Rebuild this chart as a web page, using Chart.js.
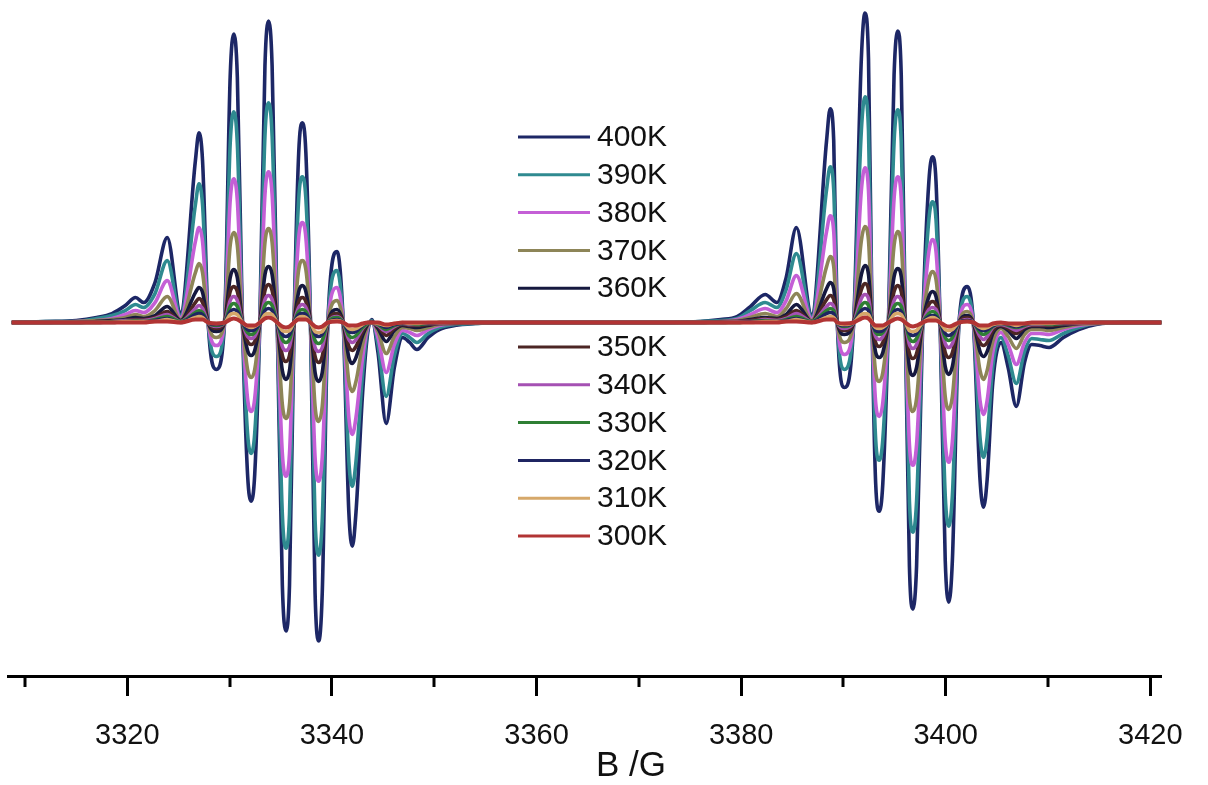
<!DOCTYPE html>
<html lang="en">
<head>
<meta charset="utf-8">
<title>EPR spectra, 300K - 400K</title>
<script src="https://cdn.jsdelivr.net/npm/chart.js@4/dist/chart.umd.min.js"></script>
<style>
  html, body { margin: 0; padding: 0; background: #fff; }
  #eprChart { display: block; }
</style>
</head>
<body>
<canvas id="eprChart" width="1208" height="785"></canvas>
<script>
// Field positions (G) shared by all spectra
const fieldG = [
  // low-field wing
  3308.7, 3312, 3315, 3317, 3318.5, 3319.8, 3320.8, 3321.6, 3322.7, 3323.9, 3325.2,
  // first multiplet
  3326.65, 3327.0, 3327.35, 3327.9, 3328.7, 3329.5, 3330.05, 3330.4, 3330.75, 3331.25,
  3331.75, 3332.1, 3332.45, 3332.95, 3333.45, 3333.8, 3334.15, 3334.65, 3335.15, 3335.5,
  3335.85, 3336.3, 3336.75, 3337.1, 3337.45, 3337.9, 3338.35, 3338.7, 3339.05, 3339.6,
  3340.5, 3341.1, 3341.65, 3342.0, 3342.35,
  // tail, gap, rise of the second multiplet
  3343.0, 3343.5, 3343.9, 3344.5, 3345.3, 3346.1, 3346.9, 3347.6, 3348.3, 3349.4,
  3350.5, 3352.0, 3354.0, 3357.0, 3365, 3373, 3376, 3378, 3379.6, 3380.9,
  3382.35, 3383.5, 3384.4, 3385.4, 3386.9,
  // second multiplet
  3388.35, 3388.7, 3389.05, 3389.4, 3390.1, 3391.0, 3391.75, 3392.1, 3392.45, 3392.8,
  3393.15, 3393.5, 3393.85, 3394.4, 3394.95, 3395.3, 3395.65, 3396.05, 3396.45, 3396.8,
  3397.15, 3397.75, 3398.35, 3398.7, 3399.05, 3399.45, 3399.95, 3400.3, 3400.65, 3401.3,
  3402.1, 3402.7, 3403.35, 3403.7, 3404.05,
  // high-field wing
  3404.6, 3405.4, 3406.1, 3406.9, 3407.7, 3408.4, 3409.2, 3410.1, 3411.5, 3413.0,
  3414.7, 3417.5, 3421.1
];

// First-derivative signal (a.u.) at each temperature, same grouping as fieldG
const k400 = [
  0,1,2,5,9,17,25,20,40,85,10,
  162,190,162,0,-47,0,246,289,246,0,-152,-179,-152,0,257,302,257,0,-263,-309,-263,0,170,200,170,0,-271,-319,-271,0,71,0,-190,-224,-190,
  -70,-10,3,-30,-101,-45,-15,-20,-27,-15,-7,-3,-1,0,0,0,1,3,6,16,28,20,45,95,8,
  182,214,182,0,-65,0,264,310,264,0,-161,-189,-161,0,248,292,248,0,-244,-287,-244,0,141,166,141,0,-238,-280,-238,0,36,0,-157,-185,-157,
  -60,-20,-45,-84,-40,-22,-23,-25,-15,-7,-2,0,0];
const k390 = [
  0,1,1,4,7,12,18,15,29,62,7,
  118,139,118,0,-34,0,179,211,179,0,-111,-131,-111,0,187,220,187,0,-192,-226,-192,0,124,146,124,0,-198,-233,-198,0,52,0,-139,-164,-139,
  -51,-7,2,-22,-74,-33,-11,-15,-20,-11,-5,-2,-1,0,0,0,1,2,4,12,20,15,33,69,6,
  133,156,133,0,-47,0,192,226,192,0,-117,-138,-117,0,181,213,181,0,-179,-210,-179,0,103,121,103,0,-173,-204,-173,0,26,0,-115,-135,-115,
  -44,-15,-33,-61,-29,-16,-17,-18,-11,-5,-1,0,0];
const k380 = [
  0,0,1,2,4,8,12,10,20,42,5,
  81,95,81,0,-23,0,122,144,122,0,-76,-89,-76,0,128,151,128,0,-131,-154,-131,0,85,100,85,0,-135,-159,-135,0,35,0,-95,-112,-95,
  -35,-5,1,-15,-50,-22,-8,-10,-13,-7,-3,-1,0,0,0,0,0,1,3,8,14,10,22,47,4,
  91,107,91,0,-32,0,132,155,132,0,-80,-94,-80,0,124,146,124,0,-122,-143,-122,0,71,83,71,0,-119,-140,-119,0,18,0,-78,-92,-78,
  -30,-10,-22,-42,-20,-11,-11,-12,-7,-3,-1,0,0];
const k370 = [
  0,0,1,2,3,5,8,6,12,26,3,
  50,59,50,0,-15,0,77,90,77,0,-47,-55,-47,0,80,94,80,0,-82,-96,-82,0,53,62,53,0,-84,-99,-84,0,22,0,-59,-69,-59,
  -22,-3,1,-9,-31,-14,-5,-6,-8,-5,-2,-1,0,0,0,0,0,1,2,5,9,6,14,29,2,
  56,66,56,0,-20,0,82,96,82,0,-50,-59,-50,0,77,91,77,0,-76,-89,-76,0,43,51,43,0,-74,-87,-74,0,11,0,-48,-57,-48,
  -19,-6,-14,-26,-12,-7,-7,-8,-5,-2,-1,0,0];
const k360 = [
  0,0,0,1,2,3,5,4,7,16,2,
  30,35,30,0,-9,0,45,53,45,0,-28,-33,-28,0,48,56,48,0,-48,-57,-48,0,31,37,31,0,-50,-59,-50,0,13,0,-35,-41,-35,
  -13,-2,1,-6,-19,-8,-3,-4,-5,-3,-1,-1,0,0,0,0,0,1,1,3,5,4,8,18,1,
  34,40,34,0,-12,0,48,57,48,0,-30,-35,-30,0,46,54,46,0,-45,-53,-45,0,26,31,26,0,-44,-52,-44,0,7,0,-29,-34,-29,
  -11,-4,-8,-16,-7,-4,-4,-5,-3,-1,0,0,0];
const k350 = [
  0,0,0,1,1,2,3,3,5,11,1,
  20,24,20,0,-6,0,31,36,31,0,-19,-22,-19,0,32,38,32,0,-33,-39,-33,0,21,25,21,0,-34,-40,-34,0,9,0,-24,-28,-24,
  -9,-1,0,-4,-13,-6,-2,-3,-3,-2,-1,0,0,0,0,0,0,0,1,2,4,3,6,12,1,
  23,27,23,0,-8,0,33,39,33,0,-20,-24,-20,0,31,37,31,0,-31,-36,-31,0,18,21,18,0,-30,-35,-30,0,5,0,-20,-23,-20,
  -8,-3,-6,-11,-5,-3,-3,-3,-2,-1,0,0,0];
const k340 = [
  0,0,0,0,1,2,2,2,4,8,1,
  14,17,14,0,-4,0,22,26,22,0,-14,-16,-14,0,23,27,23,0,-24,-28,-24,0,15,18,15,0,-25,-29,-25,0,6,0,-17,-20,-17,
  -6,-1,0,-3,-9,-4,-1,-2,-2,-1,-1,0,0,0,0,0,0,0,1,1,3,2,4,9,1,
  16,19,16,0,-6,0,24,28,24,0,-14,-17,-14,0,22,26,22,0,-22,-26,-22,0,13,15,13,0,-21,-25,-21,0,3,0,-14,-17,-14,
  -5,-2,-4,-8,-4,-2,-2,-2,-1,-1,0,0,0];
const k330 = [
  0,0,0,0,1,1,2,1,3,6,1,
  10,12,10,0,-3,0,16,19,16,0,-10,-12,-10,0,17,20,17,0,-17,-20,-17,0,11,13,11,0,-18,-21,-18,0,5,0,-13,-15,-13,
  -5,-1,0,-2,-7,-3,-1,-1,-2,-1,0,0,0,0,0,0,0,0,0,1,2,1,3,6,1,
  12,14,12,0,-4,0,17,20,17,0,-10,-12,-10,0,16,19,16,0,-16,-19,-16,0,9,11,9,0,-15,-18,-15,0,2,0,-10,-12,-10,
  -4,-1,-3,-5,-3,-1,-1,-2,-1,0,0,0,0];
const k320 = [
  0,0,0,0,0,1,1,1,2,4,0,
  8,9,8,0,-2,0,11,13,11,0,-7,-8,-7,0,12,14,12,0,-12,-14,-12,0,8,9,8,0,-12,-14,-12,0,3,0,-9,-10,-9,
  -3,0,0,-1,-5,-2,-1,-1,-1,-1,0,0,0,0,0,0,0,0,0,1,1,1,2,4,0,
  9,10,9,0,-3,0,12,14,12,0,-8,-9,-8,0,11,13,11,0,-11,-13,-11,0,6,7,6,0,-11,-13,-11,0,2,0,-7,-8,-7,
  -3,-1,-2,-4,-2,-1,-1,-1,-1,0,0,0,0];
const k310 = [
  0,0,0,0,0,1,1,1,1,3,0,
  5,6,5,0,-1,0,8,9,8,0,-4,-5,-4,0,8,9,8,0,-8,-9,-8,0,5,6,5,0,-9,-10,-9,0,2,0,-6,-7,-6,
  -2,0,0,-1,-3,-1,0,-1,-1,0,0,0,0,0,0,0,0,0,0,0,1,1,1,3,0,
  5,6,5,0,-2,0,8,9,8,0,-5,-6,-5,0,8,9,8,0,-8,-9,-8,0,4,5,4,0,-7,-8,-7,0,1,0,-5,-6,-5,
  -2,-1,-1,-3,-1,-1,-1,-1,0,0,0,0,0];
const k300 = [
  0,0,0,0,0,0,0,0,1,1,0,
  3,3,3,0,-1,0,3,4,3,0,-3,-3,-3,0,4,5,4,0,-4,-5,-4,0,3,3,3,0,-4,-5,-4,0,1,0,-3,-3,-3,
  -1,0,0,0,-2,-1,0,0,0,0,0,0,0,0,0,0,0,0,0,0,0,0,1,1,0,
  3,3,3,0,-1,0,4,5,4,0,-3,-3,-3,0,3,4,3,0,-3,-4,-3,0,2,2,2,0,-3,-4,-3,0,1,0,-3,-3,-3,
  -1,0,-1,-1,-1,0,0,0,0,0,0,0,0];

const tempLabels = ['400K', '390K', '380K', '370K', '360K', '350K', '340K', '330K', '320K', '310K', '300K'];
const spectra = [k400, k390, k380, k370, k360, k350, k340, k330, k320, k310, k300];
const lineColors = ['#1d2766', '#2f8a90', '#c45fd6', '#8d8558', '#15183f', '#4c2624',
  '#a551b3', '#2f7f34', '#1f2562', '#d6a86a', '#b13434'];

// Axis ticks every 10 G, labels every 20 G
const fieldTicks = [3310, 3320, 3330, 3340, 3350, 3360, 3370, 3380, 3390, 3400, 3410, 3420];

const FONT = '"Liberation Sans", Arial, sans-serif';

document.addEventListener('DOMContentLoaded', () => {
  initSpectraChart();
});

/**
 * Minor ticks, the field-axis title and the two-block legend
 */
const decorPlugin = {
  id: 'eprDecor',
  afterDraw(chart) {
    const { ctx, chartArea } = chart;
    const xScale = chart.scales.x;

    // short ticks between the labelled ones
    ctx.save();
    ctx.strokeStyle = '#000';
    ctx.lineWidth = 3;
    fieldTicks.filter(v => v % 20 !== 0).forEach(v => {
      const px = Math.round(xScale.getPixelForValue(v));
      ctx.beginPath();
      ctx.moveTo(px, chartArea.bottom);
      ctx.lineTo(px, chartArea.bottom + 11);
      ctx.stroke();
    });

    // axis title
    ctx.fillStyle = '#111';
    ctx.font = '35px ' + FONT;
    ctx.textAlign = 'center';
    ctx.textBaseline = 'middle';
    ctx.fillText('B /G', 631, 766);

    // legend, split around the baseline
    ctx.font = '30px ' + FONT;
    ctx.textAlign = 'left';
    chart.data.datasets.forEach((ds, i) => {
      const y = 137 + i * 37.8 + (i >= 5 ? 21 : 0);
      ctx.strokeStyle = ds.borderColor;
      ctx.lineWidth = 3;
      ctx.beginPath();
      ctx.moveTo(518, y);
      ctx.lineTo(590, y);
      ctx.stroke();
      ctx.fillStyle = '#111';
      ctx.fillText(ds.label, 597, y + 1);
    });
    ctx.restore();
  }
};

function initSpectraChart() {
  const canvas = document.getElementById('eprChart');
  if (!canvas) {
    console.warn('Chart canvas not found');
    return;
  }

  spectra.forEach((values, i) => {
    if (values.length !== fieldG.length) {
      console.warn(tempLabels[i] + ': ' + values.length + ' values for ' + fieldG.length + ' fields');
    }
  });

  const datasets = spectra.map((values, i) => ({
    label: tempLabels[i],
    data: fieldG.map((g, j) => ({ x: g, y: values[j] })),
    borderColor: lineColors[i],
    borderWidth: i === spectra.length - 1 ? 4 : 3.6,
    pointRadius: 0,
    fill: false,
    cubicInterpolationMode: 'monotone',
    // lowest temperature drawn last so the red trace sits on the baseline
    order: spectra.length - 1 - i
  }));

  new Chart(canvas.getContext('2d'), {
    type: 'line',
    data: { datasets },
    options: {
      responsive: false,
      animation: false,
      devicePixelRatio: 1,
      layout: { padding: { left: 8, right: 43, top: 0, bottom: 10 } },
      plugins: {
        legend: { display: false },
        tooltip: { enabled: false }
      },
      scales: {
        x: {
          type: 'linear',
          min: 3308.4,
          max: 3421.1,
          afterBuildTicks: scale => {
            scale.ticks = fieldTicks.map(v => ({ value: v }));
          },
          border: { display: true, color: '#000', width: 3 },
          grid: {
            drawOnChartArea: false,
            drawTicks: true,
            tickLength: 20,
            tickWidth: 3,
            tickColor: c => (c.tick && c.tick.value % 20 === 0 ? '#000' : 'rgba(0,0,0,0)')
          },
          ticks: {
            autoSkip: false,
            maxRotation: 0,
            padding: 25,
            color: '#111',
            font: { family: FONT, size: 29, lineHeight: 1 },
            callback: v => (v % 20 === 0 ? String(v) : '')
          }
        },
        y: {
          display: false,
          min: -354,
          max: 323
        }
      }
    },
    plugins: [decorPlugin]
  });

  console.log('EPR spectra rendered');
}
</script>
</body>
</html>
